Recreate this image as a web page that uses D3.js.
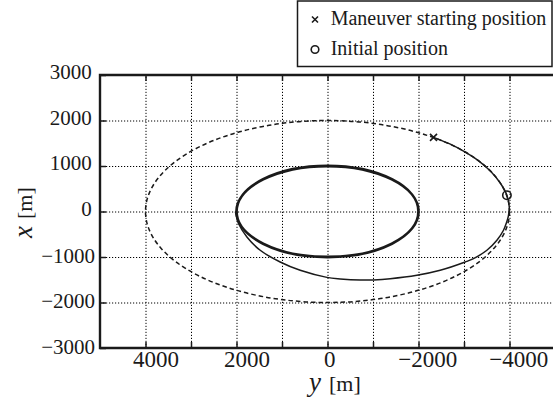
<!DOCTYPE html>
<html>
<head>
<meta charset="utf-8">
<script src="https://cdn.jsdelivr.net/npm/d3@7/dist/d3.min.js"></script>
<style>
  html, body { margin: 0; padding: 0; background: #fff; }
  .grid line { stroke: #000; stroke-width: 1; stroke-dasharray: 1.2 1.8; }
  .grid path { display: none; }
  svg text { font-family: 'Liberation Serif', 'Times New Roman', Times, 'Nimbus Roman', 'Noto Serif', 'DejaVu Serif', serif; }
</style>
</head>
<body>
<div id="chart"></div>
<script>
// Axis ranges and ticks (y on horizontal axis, reversed; x on vertical axis)
const yDomain = [5000, -5000];
const xDomain = [-3000, 3000];
const gridTicksH = [4000, 3000, 2000, 1000, 0, -1000, -2000, -3000, -4000];
const labelTicksH = [4000, 2000, 0, -2000, -4000];
const ticksV = [3000, 2000, 1000, 0, -1000, -2000, -3000];

// Orbits: [semi-axis along y, semi-axis along x]
const orbitNames = ['initial', 'final'];
const orbitSemiY = [4000, 2000];
const orbitSemiX = [2000, 1000];

// Transfer trajectory (thin solid), from the maneuver start onward
const pathY = [-2330, -2700, -3000, -3300, -3600, -3800, -3943, -3995, -3975, -3927, -3868, -3723,
  -3503, -3209, -3026, -2477, -1965, -1378, -1011, -717, -279, 13, 600, 1040, 1479, 1771, 1956, 2007, 2025];
const pathX = [1630, 1480, 1320, 1130, 870, 620, 359, 100, -100, -264, -412, -632,
  -852, -1035, -1110, -1293, -1403, -1478, -1503, -1507, -1482, -1448, -1293, -1110, -852, -559, -264, -81, 0];

// Markers
const maneuverStart = { y: -2330, x: 1630 };
const initialPos = { y: -3943, x: 359 };

const legendLabels = ['Maneuver starting position', 'Initial position'];

const INK = '#1a1a1a';

const W = 553, H = 401;
const L = 100, R = 555, T = 75, B = 348;

const svg = d3.select('#chart').append('svg')
  .attr('width', W).attr('height', H)
  .style('display', 'block');

const sx = d3.scaleLinear().domain(yDomain).range([L, R]);
const sy = d3.scaleLinear().domain(xDomain).range([B, T]);

// dotted grid
svg.append('g').attr('class', 'grid')
  .attr('transform', `translate(0,${B})`)
  .call(d3.axisBottom(sx).tickValues(gridTicksH).tickSize(-(B - T)).tickFormat(''));
svg.append('g').attr('class', 'grid')
  .attr('transform', `translate(${L},0)`)
  .call(d3.axisLeft(sy).tickValues(ticksV.slice(1, -1)).tickSize(-(R - L)).tickFormat(''));

// orbits
const orbitG = svg.append('g');
orbitNames.forEach((name, i) => {
  orbitG.append('ellipse')
    .attr('cx', sx(0)).attr('cy', sy(0))
    .attr('rx', Math.abs(sx(orbitSemiY[i]) - sx(0)))
    .attr('ry', Math.abs(sy(orbitSemiX[i]) - sy(0)))
    .attr('fill', 'none')
    .attr('stroke', INK)
    .attr('stroke-width', name === 'initial' ? 1.5 : 2.8)
    .attr('stroke-dasharray', name === 'initial' ? '4.5 3' : null);
});

// transfer trajectory
const line = d3.line()
  .x((d, i) => sx(pathY[i]))
  .y((d, i) => sy(pathX[i]))
  .curve(d3.curveCatmullRom.alpha(0.5));
svg.append('path')
  .attr('d', line(pathY))
  .attr('fill', 'none')
  .attr('stroke', INK)
  .attr('stroke-width', 1.5);

// markers
function cross(g, cx, cy, s) {
  g.append('path')
    .attr('d', `M${cx - s},${cy - s}L${cx + s},${cy + s}M${cx - s},${cy + s}L${cx + s},${cy - s}`)
    .attr('stroke', INK).attr('stroke-width', 1.6).attr('fill', 'none');
}
function ring(g, cx, cy, r) {
  g.append('circle').attr('cx', cx).attr('cy', cy).attr('r', r)
    .attr('fill', 'none').attr('stroke', INK).attr('stroke-width', 1.6);
}
cross(svg, sx(maneuverStart.y), sy(maneuverStart.x), 3.5);
ring(svg, sx(initialPos.y), sy(initialPos.x), 4.2);

// axes: inward ticks
const bottomAx = svg.append('g').attr('transform', `translate(0,${B})`)
  .call(d3.axisBottom(sx).tickValues(gridTicksH).tickSize(-6).tickFormat(''));
const topAx = svg.append('g').attr('transform', `translate(0,${T})`)
  .call(d3.axisTop(sx).tickValues(gridTicksH).tickSize(-6).tickFormat(''));
const leftAx = svg.append('g').attr('transform', `translate(${L},0)`)
  .call(d3.axisLeft(sy).tickValues(ticksV).tickSize(-6).tickFormat(''));
[bottomAx, topAx, leftAx].forEach(a => {
  a.select('.domain').remove();
  a.selectAll('line').attr('stroke', INK).attr('stroke-width', 1.5);
});

// horizontal tick labels
const fmt = v => (v < 0 ? '\u2212' : '') + Math.abs(v);
svg.append('g').selectAll('text').data(labelTicksH).enter().append('text')
  .attr('x', d => {
    const s = String(Math.abs(d));
    return sx(d) - (3.0 * s.length + 0.5 + (d < 0 ? 7.7 : 0));
  })
  .attr('y', 367)
  .attr('font-size', 23)
  .attr('fill', INK)
  .text(fmt);

// vertical tick labels
svg.append('g').selectAll('text').data(ticksV).enter().append('text')
  .attr('x', d => d < 0 ? L - 5 : L - 8.3)
  .attr('y', d => sy(d) + (d < 0 ? 5.9 : 4.2))
  .attr('text-anchor', 'end')
  .attr('font-size', 21)
  .attr('fill', INK)
  .text(fmt);

// frame lines (left, bottom, top)
svg.append('path')
  .attr('d', `M${R},${T}H${L}V${B}H${R}`)
  .attr('fill', 'none').attr('stroke', INK).attr('stroke-width', 2.4);

// axis titles
const xt = svg.append('text').attr('x', 309).attr('y', 391).attr('fill', INK);
xt.append('tspan').attr('font-style', 'italic').attr('font-size', 27).text('y');
xt.append('tspan').attr('font-size', 22).attr('dx', 8).text('[m]');

const yt = svg.append('text').attr('transform', 'translate(31.5,238) rotate(-90)').attr('fill', INK);
yt.append('tspan').attr('font-style', 'italic').attr('font-size', 27).text('x');
yt.append('tspan').attr('font-size', 22).attr('dx', 7).text('[m]');

// legend
const lg = svg.append('g');
lg.append('rect').attr('x', 297.5).attr('y', 1).attr('width', 254.5).attr('height', 65.5)
  .attr('fill', '#fff').attr('stroke', INK).attr('stroke-width', 1.5);
cross(lg, 315, 19.5, 3);
ring(lg, 315, 49.5, 3.8);
lg.selectAll('text.lab').data(legendLabels).enter().append('text')
  .attr('class', 'lab')
  .attr('x', 330.7)
  .attr('y', (d, i) => i === 0 ? 25 : 55)
  .attr('font-size', 20)
  .attr('fill', INK)
  .text(d => d);
</script>
</body>
</html>
